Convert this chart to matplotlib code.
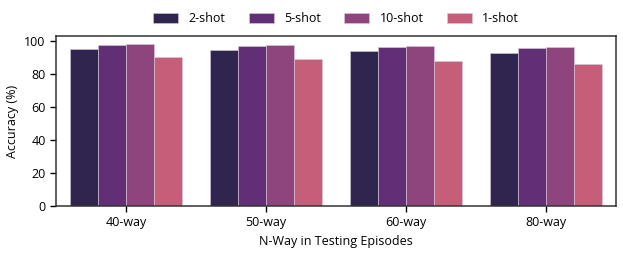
import matplotlib
matplotlib.use("Agg")
import matplotlib.pyplot as plt
import numpy as np

plt.rcParams['font.family'] = ['Open Sans', 'DejaVu Sans']

categories = ['40-way', '50-way', '60-way', '80-way']
series = ['2-shot', '5-shot', '10-shot', '1-shot']
values = {
    '2-shot': [95.3, 94.7, 94.1, 92.9],
    '5-shot': [97.4, 97.0, 96.4, 95.6],
    '10-shot': [97.8, 97.4, 97.0, 96.4],
    '1-shot': [90.3, 88.9, 87.9, 86.1],
}
colors = ['#30254f', '#622e76', '#8e457e', '#c55f79']

fig = plt.figure(figsize=(6.23, 2.54), dpi=100)
ax = fig.add_axes([0.09, 0.189, 0.899, 0.668])

x = np.arange(len(categories))
n = len(series)
w = 0.8 / n
for i, s in enumerate(series):
    ax.bar(x - 0.4 + w * (i + 0.5), values[s], width=w, color=colors[i],
           edgecolor='#d8cbdc', linewidth=0.4, label=s)

ax.set_xlim(-0.5, len(categories) - 0.5)
ax.set_ylim(0, 102.7)
ax.set_xticks(x)
ax.set_xticklabels(categories)
ax.set_yticks([0, 20, 40, 60, 80, 100])
ax.tick_params(labelsize=9, length=4, width=1)
ax.set_xlabel('N-Way in Testing Episodes', fontsize=9)
ax.set_ylabel('Accuracy (%)', fontsize=9)
for sp in ax.spines.values():
    sp.set_linewidth(1.1)
    sp.set_color('#333333')

ax.legend(loc='lower center', bbox_to_anchor=(0.5, 1.0), ncol=4, frameon=False,
          fontsize=9, handlelength=2.0, columnspacing=1.9, handleheight=0.8)

fig.savefig('out.png', dpi=100)
